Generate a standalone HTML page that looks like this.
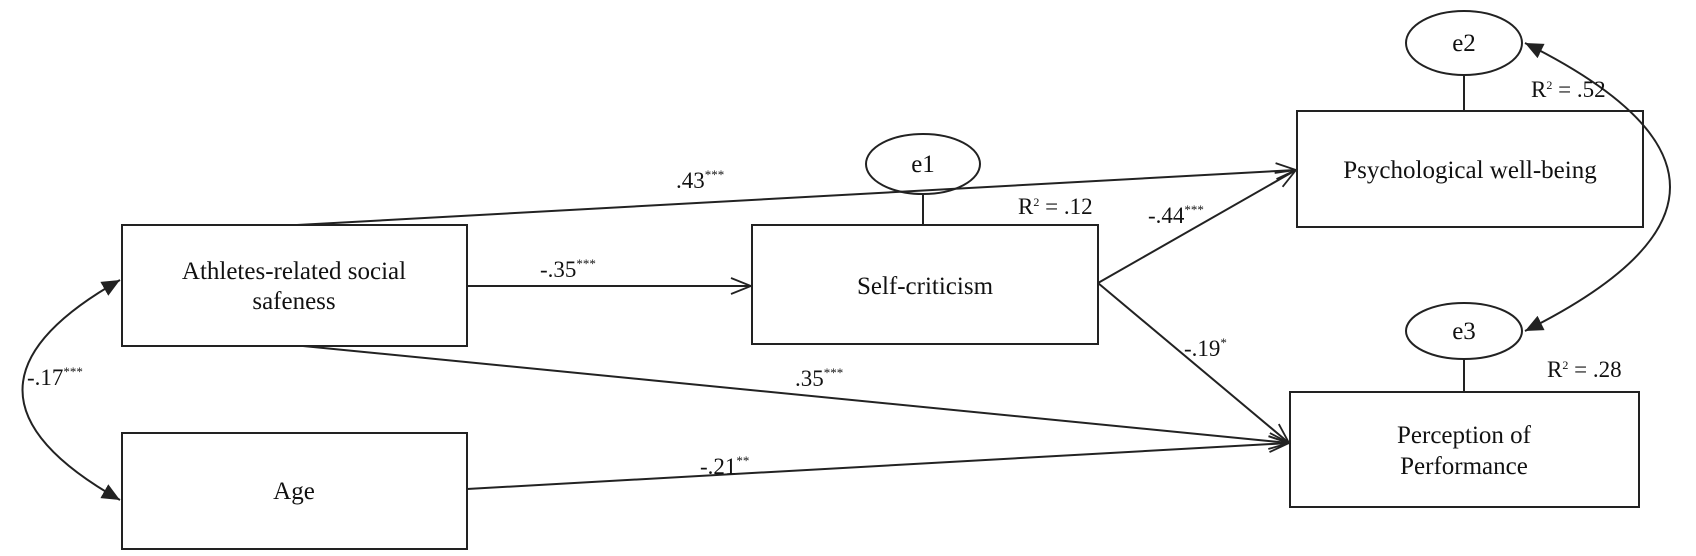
<!DOCTYPE html>
<html><head><meta charset="utf-8"><style>
html,body{margin:0;padding:0;background:#fff;}
svg{display:block;}
text{font-family:"Liberation Serif",serif;fill:#111;}
</style></head><body>
<svg width="1696" height="556" viewBox="0 0 1696 556" xmlns="http://www.w3.org/2000/svg">
<defs>
<marker id="open" markerWidth="24" markerHeight="20" refX="22" refY="10" orient="auto" markerUnits="userSpaceOnUse">
<path d="M2,2 L22,10 L2,18" fill="none" stroke="#222" stroke-width="1.8"/>
</marker>
<marker id="fill" markerWidth="20" markerHeight="16" refX="18" refY="8" orient="auto-start-reverse" markerUnits="userSpaceOnUse">
<path d="M0,0 L18,8 L0,16 z" fill="#222"/>
</marker>
</defs>
<g fill="none" stroke="#222" stroke-width="2">
<rect x="122" y="225" width="345" height="121"/>
<rect x="122" y="433" width="345" height="116"/>
<rect x="752" y="225" width="346" height="119"/>
<rect x="1297" y="111" width="346" height="116"/>
<rect x="1290" y="392" width="349" height="115"/>
<ellipse cx="923" cy="164" rx="57" ry="30"/>
<ellipse cx="1464" cy="43" rx="58" ry="32"/>
<ellipse cx="1464" cy="331" rx="58" ry="28"/>
<line x1="923" y1="194" x2="923" y2="225"/>
<line x1="1464" y1="75" x2="1464" y2="111"/>
<line x1="1464" y1="359" x2="1464" y2="392"/>
<line x1="297" y1="225" x2="1296" y2="170" marker-end="url(#open)"/>
<line x1="467" y1="286" x2="751" y2="286" marker-end="url(#open)"/>
<line x1="303" y1="346" x2="1289" y2="443" marker-end="url(#open)"/>
<line x1="467" y1="489" x2="1289" y2="443" marker-end="url(#open)"/>
<line x1="1098" y1="283" x2="1296" y2="170" marker-end="url(#open)"/>
<line x1="1098" y1="283" x2="1289" y2="443" marker-end="url(#open)"/>
<path d="M120,280 Q -75,390 120,500" marker-start="url(#fill)" marker-end="url(#fill)"/>
<path d="M1525,43 Q 1815,187 1525,331" marker-start="url(#fill)" marker-end="url(#fill)"/>
</g>
<g font-size="25" text-anchor="middle">
<text x="294" y="279">Athletes-related social</text>
<text x="294" y="309">safeness</text>
<text x="294" y="499">Age</text>
<text x="925" y="294">Self-criticism</text>
<text x="1470" y="178">Psychological well-being</text>
<text x="1464" y="443">Perception of</text>
<text x="1464" y="474">Performance</text>
<text x="923" y="172">e1</text>
<text x="1464" y="51">e2</text>
<text x="1464" y="339">e3</text>
</g>
<g font-size="23">
<text x="676" y="188">.43<tspan font-size="13" dy="-9">***</tspan></text>
<text x="540" y="277">-.35<tspan font-size="13" dy="-9">***</tspan></text>
<text x="795" y="386">.35<tspan font-size="13" dy="-9">***</tspan></text>
<text x="700" y="474">-.21<tspan font-size="13" dy="-9">**</tspan></text>
<text x="27" y="385">-.17<tspan font-size="13" dy="-9">***</tspan></text>
<text x="1148" y="223">-.44<tspan font-size="13" dy="-9">***</tspan></text>
<text x="1184" y="356">-.19<tspan font-size="13" dy="-9">*</tspan></text>
<text x="1018" y="214">R<tspan font-size="12" dy="-8">2</tspan><tspan dy="8"> = .12</tspan></text>
<text x="1531" y="97">R<tspan font-size="12" dy="-8">2</tspan><tspan dy="8"> = .52</tspan></text>
<text x="1547" y="377">R<tspan font-size="12" dy="-8">2</tspan><tspan dy="8"> = .28</tspan></text>
</g>
</svg>
</body></html>
